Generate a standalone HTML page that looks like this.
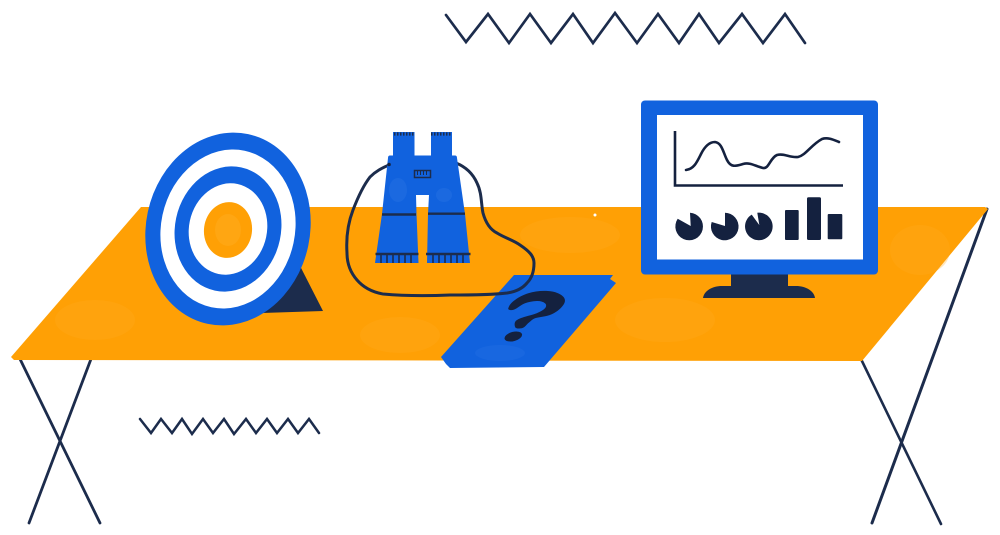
<!DOCTYPE html>
<html>
<head>
<meta charset="utf-8">
<style>
html,body{margin:0;padding:0;background:#fff;width:1000px;height:535px;overflow:hidden}
svg{display:block}
</style>
</head>
<body>
<svg width="1000" height="535" viewBox="0 0 1000 535" xmlns="http://www.w3.org/2000/svg">
<g fill="none" stroke="#1c2c4c" stroke-linejoin="miter" stroke-linecap="round">
<polyline stroke-width="2.7" points="446,15 466,42 488,14 509,43 530,14 551,43 573,14 593,43 615,13 637,43 658,14 679,43 699,14 719,43 742,14 763,43 785,14 805,43"/>
<polyline stroke-width="2.5" points="140,419 151,433 161,419 172,433 182,419 192,434 203,419 213,433 224,419 234,434 246,419 256,433 267,419 277,433 288,419 298,433 309,419 319,433"/>
<line x1="20" y1="359" x2="100" y2="523" stroke-width="2.8"/>
<line x1="91" y1="359" x2="29" y2="523" stroke-width="2.8"/>
<line x1="861" y1="359" x2="941" y2="524" stroke-width="2.6"/>
<line x1="987" y1="209" x2="872" y2="523" stroke-width="3"/>
</g>
<polygon fill="#ffa005" points="141,207 985,207 988,209 862,361 14,360 11,357"/>
<g fill="#ffab20" opacity=".3">
<ellipse cx="665" cy="320" rx="50" ry="22"/>
<ellipse cx="95" cy="320" rx="40" ry="20"/>
<ellipse cx="400" cy="335" rx="40" ry="18"/>
<ellipse cx="570" cy="235" rx="50" ry="18"/>
<ellipse cx="920" cy="250" rx="30" ry="25"/>
</g>
<circle cx="595" cy="215" r="1.500" fill="#fff"/>
<polygon fill="#1c2c4c" points="298,262 323,311 262,313"/>
<g transform="rotate(12 228 229)">
<ellipse cx="228" cy="229" rx="82" ry="97" fill="#1162de"/>
<ellipse cx="228" cy="229" rx="67" ry="80" fill="#fff"/>
<ellipse cx="228" cy="229" rx="53" ry="63" fill="#1162de"/>
<ellipse cx="228" cy="229" rx="39" ry="46" fill="#fff"/>
</g>
<ellipse cx="228" cy="230" rx="24" ry="28" fill="#ffa005" transform="rotate(8 228 230)"/>
<ellipse cx="228" cy="230" rx="13" ry="16" fill="#ffab20" opacity=".5"/>
<polygon fill="#1162de" points="514,275 613,275 610,279 616,283 544,367 450,368 446,364 441,357"/>
<ellipse cx="500" cy="353" rx="25" ry="8" fill="#2f78e6" opacity=".25"/>
<path d="M508.300,308.300 C509.500,304.500 512,302 515,300 C519,297 523,295 528.300,293.300 C534,291.500 541,290.500 548,291 C555,291.500 560,293.500 563.300,296.700 C565.500,299 565.500,302 563.300,305 C560,309.500 556,312.300 551.700,314.300 C546,316.800 540,316.800 535,318.300 C532,319.500 530.500,321.500 528,323.300 C526,325.500 524,328 521.700,328.300 C518.500,328.800 515.500,328.500 515,326.700 C514.300,324.500 514.500,322.500 515.700,321 C518,318.800 521.500,317.800 525,316.700 C529,315.500 533,314.800 536.700,313.300 C540,311.800 543,310.500 545,308.300 C546.500,306.500 546.500,304.500 545,303.300 C543,301.500 540,300.800 536.700,301 C532.500,301.200 528.500,302 525,303.300 C522,304.500 519.500,306.500 516.700,308.300 C514.500,309.700 512,310.500 510,310 C508.500,309.800 508,309 508.300,308.300 Z" fill="#14213f"/>
<ellipse cx="513.300" cy="336.500" rx="9" ry="4.600" fill="#14213f" transform="rotate(-15 513.300 336.500)"/>
<path d="M456,163 C466,167 473,174 477,183 C482,193 481,204 483,213 C486,224 491,230 497,233 C505,238 513,240 520,245 C529,251 534,256 534,263 C534,272 532,278 527,283 C522,289 514,292 507,293 C490,295 470,295 450,295 C428,296 405,296 383,294 C372,292 363,287 357,280 C350,272 347,263 347,253 C346,238 348,223 353,210 C358,197 363,186 370,177 C376,171 382,168 389,165" fill="none" stroke="#1c2c4c" stroke-width="3" stroke-linecap="round"/>
<path d="M393,132 H414.500 V155.500 H431 V132 H452 V155.500 H455 Q457,155.500 457,158 L465,214 L470,263 H427 L428,214 L429,195 H416 L416.500,214 L418.500,263 H375 L382,214 L388,158 Q388,155.500 390,155.500 H393 Z" fill="#1162de"/>
<ellipse cx="398" cy="190" rx="9" ry="12" fill="#2f78e6" opacity=".35"/>
<ellipse cx="444" cy="195" rx="8" ry="7" fill="#2f78e6" opacity=".35"/>
<circle cx="389" cy="164.500" r="1.800" fill="#14213f"/>
<g stroke="#1c2c4c" fill="none">
<path d="M382,214.500 H416 M428,213.700 H465 M375.500,254 H418.500 M426,254 H470.500" stroke-width="2.400"/>
<path d="M381,254 V263 M387,254 V263 M393,254 V263 M399,254 V263 M405,254 V263 M411,254 V263 M433,254 V263 M439,254 V263 M445,254 V263 M451,254 V263 M457,254 V263 M463,254 V263" stroke-width="1.600"/>
<rect x="414.500" y="170.500" width="16" height="7" stroke-width="1.500"/>
<path d="M417.500,171 V175 M420.500,171 V175 M423.500,171 V175 M426.500,171 V175" stroke-width="1"/>
<path d="M394,134 H414 M431,134 H451" stroke-width="3.200" stroke-dasharray="1.500 1.500"/>
</g>
<rect x="731" y="272" width="57" height="16" fill="#1c2c4c"/>
<path d="M703,298 C704,291 712,286 722,286 H796 C806,286 814,291 815,298 Z" fill="#1c2c4c"/>
<rect x="641" y="100.500" width="237" height="174" rx="4" fill="#1162de"/>
<rect x="657" y="115" width="206" height="144.500" fill="#fff"/>
<path d="M675,131 V185.500 H843" fill="none" stroke="#14213f" stroke-width="2.600"/>
<path d="M686,170 C694,169 697,162 701,154 C705,146 710,142 715,142 C722,143 723,152 727,160 C731,168 736,166 743,164 C750,162 755,166 763,168 C769,169 770,158 777,155 C784,153 790,158 798,157 C806,155 811,145 822,139 C828,137 834,140 839,142" fill="none" stroke="#14213f" stroke-width="2.600" stroke-linecap="round"/>
<g fill="#14213f">
<path d="M690.700,226 L677.700,218.800 A13.800,13.800 0 1 0 690,212.700 Z"/>
<path d="M725,226 L711.700,222 A13.800,13.800 0 1 0 725,212.700 Z"/>
<path d="M759.300,225 L751.700,214.600 A13.800,13.800 0 1 0 757.300,212.700 Z"/>
<rect x="785" y="210" width="13.700" height="30" rx="1"/>
<rect x="807" y="197.300" width="14" height="42.700" rx="1.500"/>
<rect x="827.700" y="214" width="14.600" height="25.300" rx="1"/>
</g>
</svg>
</body>
</html>
